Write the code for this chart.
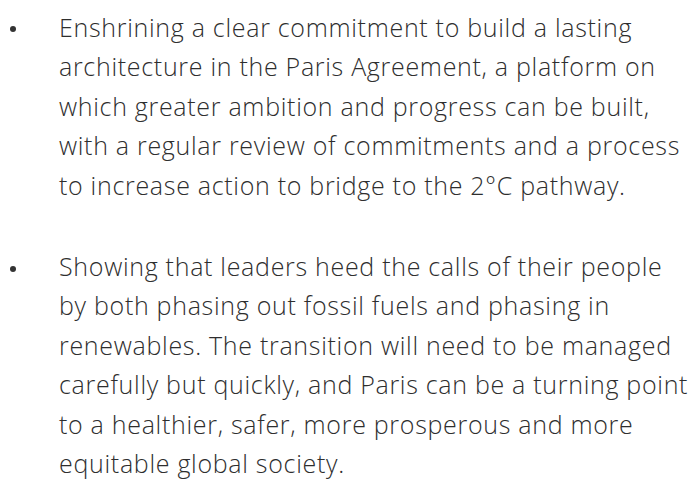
<!DOCTYPE html>
<html><head><meta charset="utf-8">
<script src="https://cdn.jsdelivr.net/npm/chart.js@4"></script>
<style>
html,body{margin:0;padding:0;background:#fff;width:697px;height:483px;overflow:hidden}
.p{position:absolute;left:59px;font-family:"Open Sans",sans-serif;font-weight:300;font-size:25px;letter-spacing:0.7px;line-height:39.6px;color:#2e2e2e;white-space:nowrap}
.b{position:absolute;left:10px;width:6px;height:6px;border-radius:50%;background:#333}
</style></head><body>
<div class="b" style="top:26px"></div>
<div class="p" id="p1" style="top:7.5px"></div>
<div class="b" style="top:266px"></div>
<div class="p" id="p2" style="top:246.5px"></div>
<script>
const para1 = [
"Enshrining a clear commitment to build a lasting",
"architecture in the Paris Agreement, a platform on",
"which greater ambition and progress can be built,",
"with a regular review of commitments and a process",
"to increase action to bridge to the 2°C pathway."
];
const para2 = [
"Showing that leaders heed the calls of their people",
"by both phasing out fossil fuels and phasing in",
"renewables. The transition will need to be managed",
"carefully but quickly, and Paris can be a turning point",
"to a healthier, safer, more prosperous and more",
"equitable global society."
];
function fill(id, lines){
  const el=document.getElementById(id);
  lines.forEach(t=>{const d=document.createElement('div');d.textContent=t;el.appendChild(d);});
}
fill('p1',para1);fill('p2',para2);
</script>
</body></html>
